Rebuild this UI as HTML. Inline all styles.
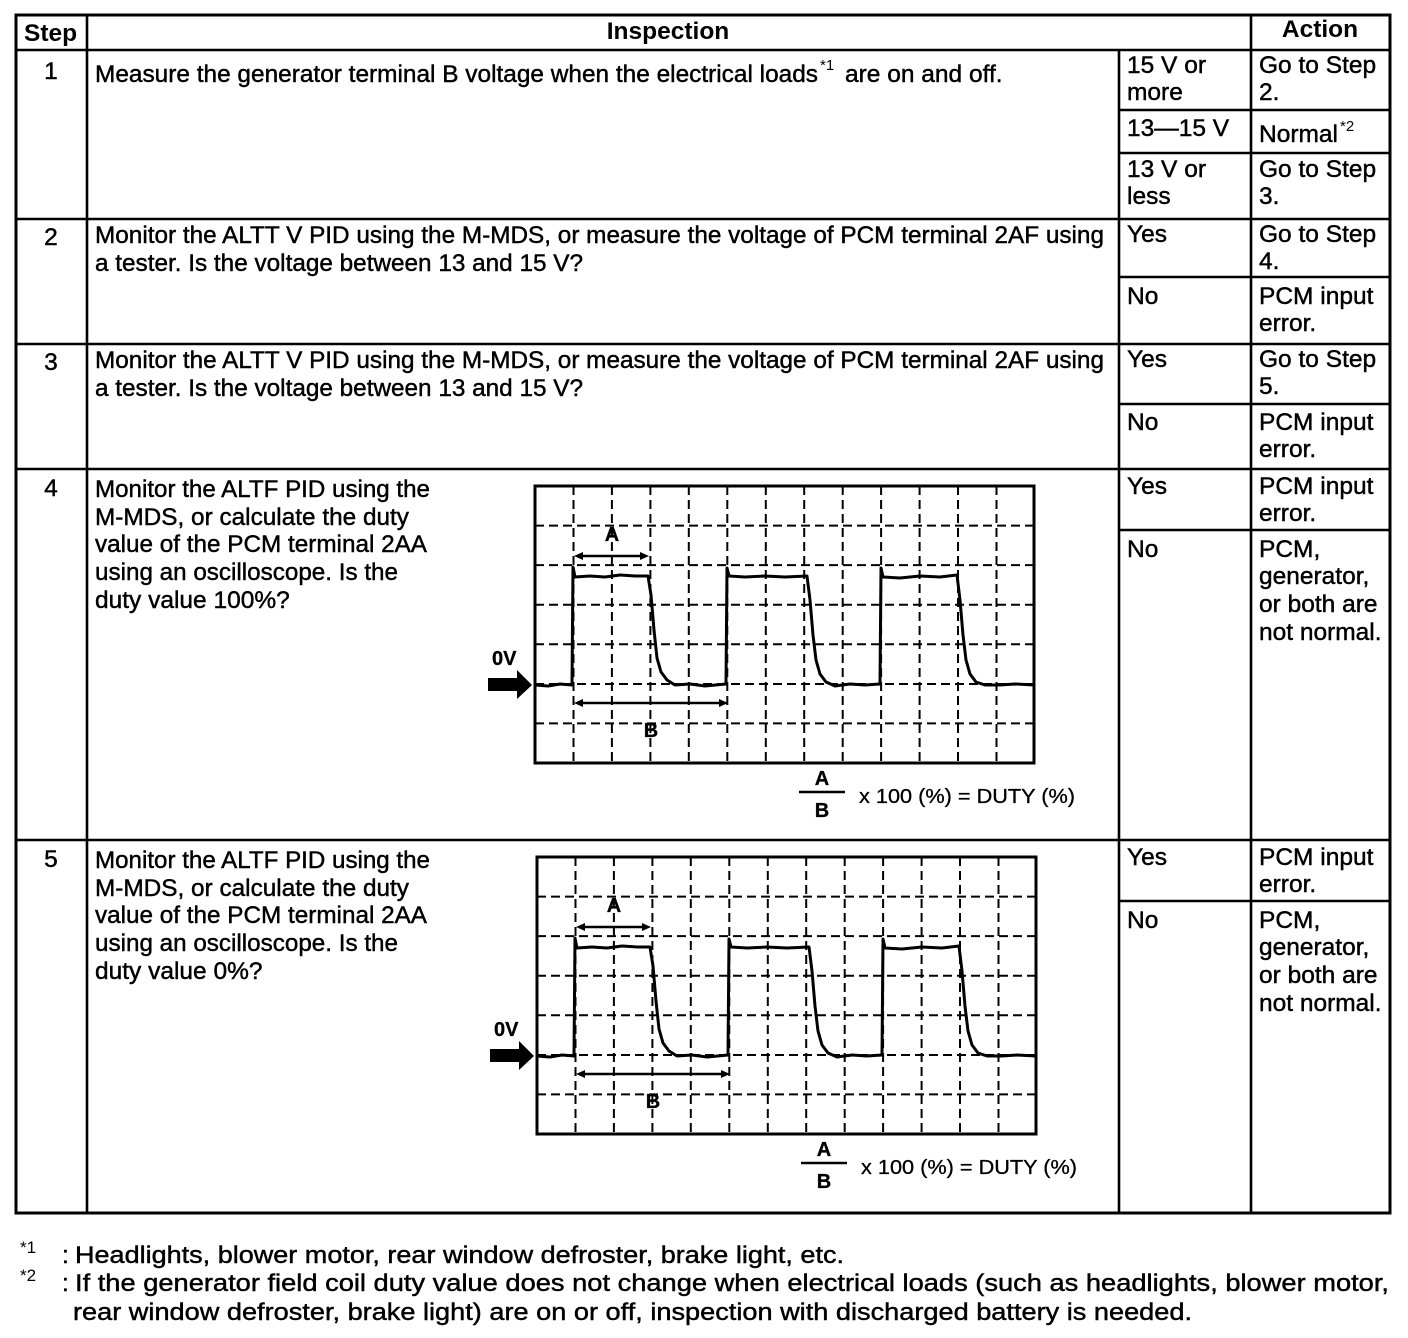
<!DOCTYPE html>
<html><head><meta charset="utf-8"><style>
html,body{margin:0;padding:0;background:#fff;}
svg{display:block;}
text{font-family:"Liberation Sans",Arial,sans-serif;fill:#000;}
.t{font-size:24.5px;stroke:#000;stroke-width:0.45px;}
.b{font-size:24.5px;font-weight:bold;}
.s{font-size:15px;}
.sc{font-size:20px;font-weight:bold;stroke:#000;stroke-width:0.3px;}
</style></head><body>
<svg width="1408" height="1338" viewBox="0 0 1408 1338" xmlns="http://www.w3.org/2000/svg">
<rect width="1408" height="1338" fill="#fff"/>
<!-- table lines -->
<g stroke="#000" stroke-width="2.6" fill="none">
<rect x="16" y="15" width="1374" height="1198" stroke-width="3"/>
<line x1="87" y1="15" x2="87" y2="1213"/>
<line x1="1251" y1="15" x2="1251" y2="1213"/>
<line x1="1119" y1="50" x2="1119" y2="1213"/>
<line x1="16" y1="50" x2="1390" y2="50"/>
<line x1="16" y1="219" x2="1390" y2="219"/>
<line x1="16" y1="344" x2="1390" y2="344"/>
<line x1="16" y1="469" x2="1390" y2="469"/>
<line x1="16" y1="840" x2="1390" y2="840"/>
<line x1="1119" y1="110" x2="1390" y2="110"/>
<line x1="1119" y1="153" x2="1390" y2="153"/>
<line x1="1119" y1="277" x2="1390" y2="277"/>
<line x1="1119" y1="404" x2="1390" y2="404"/>
<line x1="1119" y1="530" x2="1390" y2="530"/>
<line x1="1119" y1="901" x2="1390" y2="901"/>
</g>

<!-- header -->
<text class="b" x="24" y="41">Step</text>
<text class="b" x="668" y="39" text-anchor="middle">Inspection</text>
<text class="b" x="1320" y="37" text-anchor="middle">Action</text>

<!-- row 1 -->
<text class="t" x="51" y="79" text-anchor="middle">1</text>
<text class="t" x="95" y="82" textLength="723" lengthAdjust="spacingAndGlyphs">Measure the generator terminal B voltage when the electrical loads</text>
<text class="s" x="820" y="70">*1</text>
<text class="t" x="845" y="82">are on and off.</text>
<text class="t" x="1127" y="73">15 V or</text>
<text class="t" x="1127" y="100">more</text>
<text class="t" x="1259" y="73">Go to Step</text>
<text class="t" x="1259" y="100">2.</text>
<text class="t" x="1127" y="136">13—15 V</text>
<text class="t" x="1259" y="142">Normal</text>
<text class="s" x="1340" y="131">*2</text>
<text class="t" x="1127" y="177">13 V or</text>
<text class="t" x="1127" y="204">less</text>
<text class="t" x="1259" y="177">Go to Step</text>
<text class="t" x="1259" y="204">3.</text>

<!-- row 2 -->
<text class="t" x="51" y="245" text-anchor="middle">2</text>
<text class="t" x="95" y="243" textLength="1009" lengthAdjust="spacingAndGlyphs">Monitor the ALTT V PID using the M-MDS, or measure the voltage of PCM terminal 2AF using</text>
<text class="t" x="95" y="271" textLength="488" lengthAdjust="spacingAndGlyphs">a tester. Is the voltage between 13 and 15 V?</text>
<text class="t" x="1127" y="242">Yes</text>
<text class="t" x="1259" y="242">Go to Step</text>
<text class="t" x="1259" y="269">4.</text>
<text class="t" x="1127" y="304">No</text>
<text class="t" x="1259" y="304">PCM input</text>
<text class="t" x="1259" y="331">error.</text>

<!-- row 3 -->
<text class="t" x="51" y="370" text-anchor="middle">3</text>
<text class="t" x="95" y="368" textLength="1009" lengthAdjust="spacingAndGlyphs">Monitor the ALTT V PID using the M-MDS, or measure the voltage of PCM terminal 2AF using</text>
<text class="t" x="95" y="396" textLength="488" lengthAdjust="spacingAndGlyphs">a tester. Is the voltage between 13 and 15 V?</text>
<text class="t" x="1127" y="367">Yes</text>
<text class="t" x="1259" y="367">Go to Step</text>
<text class="t" x="1259" y="394">5.</text>
<text class="t" x="1127" y="430">No</text>
<text class="t" x="1259" y="430">PCM input</text>
<text class="t" x="1259" y="457">error.</text>

<!-- row 4 -->
<text class="t" x="51" y="496" text-anchor="middle">4</text>
<text class="t" x="95" y="497" textLength="335" lengthAdjust="spacingAndGlyphs">Monitor the ALTF PID using the</text>
<text class="t" x="95" y="525" textLength="314" lengthAdjust="spacingAndGlyphs">M-MDS, or calculate the duty</text>
<text class="t" x="95" y="552" textLength="332" lengthAdjust="spacingAndGlyphs">value of the PCM terminal 2AA</text>
<text class="t" x="95" y="580" textLength="303" lengthAdjust="spacingAndGlyphs">using an oscilloscope. Is the</text>
<text class="t" x="95" y="608">duty value 100%?</text>
<text class="t" x="1127" y="494">Yes</text>
<text class="t" x="1259" y="494">PCM input</text>
<text class="t" x="1259" y="521">error.</text>
<text class="t" x="1127" y="557">No</text>
<text class="t" x="1259" y="557">PCM,</text>
<text class="t" x="1259" y="584">generator,</text>
<text class="t" x="1259" y="612">or both are</text>
<text class="t" x="1259" y="640">not normal.</text>

<!-- row 5 -->
<text class="t" x="51" y="867" text-anchor="middle">5</text>
<text class="t" x="95" y="868" textLength="335" lengthAdjust="spacingAndGlyphs">Monitor the ALTF PID using the</text>
<text class="t" x="95" y="896" textLength="314" lengthAdjust="spacingAndGlyphs">M-MDS, or calculate the duty</text>
<text class="t" x="95" y="923" textLength="332" lengthAdjust="spacingAndGlyphs">value of the PCM terminal 2AA</text>
<text class="t" x="95" y="951" textLength="303" lengthAdjust="spacingAndGlyphs">using an oscilloscope. Is the</text>
<text class="t" x="95" y="979">duty value 0%?</text>
<text class="t" x="1127" y="865">Yes</text>
<text class="t" x="1259" y="865">PCM input</text>
<text class="t" x="1259" y="892">error.</text>
<text class="t" x="1127" y="928">No</text>
<text class="t" x="1259" y="928">PCM,</text>
<text class="t" x="1259" y="955">generator,</text>
<text class="t" x="1259" y="983">or both are</text>
<text class="t" x="1259" y="1011">not normal.</text>

<!-- scope 1 -->
<g>
 <g stroke="#000" stroke-width="2" stroke-dasharray="9 5" fill="none">
  <line x1="573.5" y1="486" x2="573.5" y2="763"/>
  <line x1="611.9" y1="486" x2="611.9" y2="763"/>
  <line x1="650.4" y1="486" x2="650.4" y2="763"/>
  <line x1="688.8" y1="486" x2="688.8" y2="763"/>
  <line x1="727.3" y1="486" x2="727.3" y2="763"/>
  <line x1="765.8" y1="486" x2="765.8" y2="763"/>
  <line x1="804.2" y1="486" x2="804.2" y2="763"/>
  <line x1="842.7" y1="486" x2="842.7" y2="763"/>
  <line x1="881.1" y1="486" x2="881.1" y2="763"/>
  <line x1="919.6" y1="486" x2="919.6" y2="763"/>
  <line x1="958" y1="486" x2="958" y2="763"/>
  <line x1="996.5" y1="486" x2="996.5" y2="763"/>
  <line x1="535" y1="525.6" x2="1034" y2="525.6"/>
  <line x1="535" y1="565.1" x2="1034" y2="565.1"/>
  <line x1="535" y1="604.7" x2="1034" y2="604.7"/>
  <line x1="535" y1="644.3" x2="1034" y2="644.3"/>
  <line x1="535" y1="684" x2="1034" y2="684"/>
  <line x1="535" y1="723.4" x2="1034" y2="723.4"/>
 </g>
 <rect x="535" y="486" width="499" height="277" fill="none" stroke="#000" stroke-width="3"/>
 <path d="M535,685 L548,686 L560,684 L572,685 L573,567 L575,577 L590,576 L605,577 L620,575 L635,576 L648,576 L651,595 L654,630 L657,658 L661,672 L667,680 L675,685 L690,684 L705,686 L726,684 L727,568 L729,576 L745,577 L765,576 L785,577 L807,576 L810,600 L813,635 L816,660 L820,674 L826,682 L835,686 L850,684 L865,685 L880,684 L881,568 L883,577 L900,578 L920,576 L940,577 L957,575 L960,600 L963,635 L966,660 L970,674 L976,682 L985,685 L1000,685 L1015,684 L1034,685" fill="none" stroke="#000" stroke-width="3" stroke-linejoin="round"/>
 <line x1="580" y1="556" x2="643" y2="556" stroke="#000" stroke-width="2.5"/>
 <polygon points="574,556 583,552 583,560" fill="#000"/>
 <polygon points="649,556 640,552 640,560" fill="#000"/>
 <text class="sc" x="612" y="541" text-anchor="middle">A</text>
 <line x1="580" y1="703" x2="722" y2="703" stroke="#000" stroke-width="2.5"/>
 <polygon points="574,703 583,699 583,707" fill="#000"/>
 <polygon points="728,703 719,699 719,707" fill="#000"/>
 <text class="sc" x="651" y="737" text-anchor="middle">B</text>
 <text class="sc" x="492" y="665">0V</text>
 <polygon points="488,678 517,678 517,670 532,685 517,699 517,691 488,691" fill="#000"/>
 <text class="sc" x="822" y="785" text-anchor="middle">A</text>
 <line x1="799" y1="792" x2="845" y2="792" stroke="#000" stroke-width="2.5"/>
 <text class="sc" x="822" y="817" text-anchor="middle">B</text>
 <text class="sc" x="859" y="803" textLength="216" lengthAdjust="spacingAndGlyphs" style="font-weight:normal">x 100 (%) = DUTY (%)</text>
</g>

<!-- scope 2 -->
<g transform="translate(2,371)">
 <g stroke="#000" stroke-width="2" stroke-dasharray="9 5" fill="none">
  <line x1="573.5" y1="486" x2="573.5" y2="763"/>
  <line x1="611.9" y1="486" x2="611.9" y2="763"/>
  <line x1="650.4" y1="486" x2="650.4" y2="763"/>
  <line x1="688.8" y1="486" x2="688.8" y2="763"/>
  <line x1="727.3" y1="486" x2="727.3" y2="763"/>
  <line x1="765.8" y1="486" x2="765.8" y2="763"/>
  <line x1="804.2" y1="486" x2="804.2" y2="763"/>
  <line x1="842.7" y1="486" x2="842.7" y2="763"/>
  <line x1="881.1" y1="486" x2="881.1" y2="763"/>
  <line x1="919.6" y1="486" x2="919.6" y2="763"/>
  <line x1="958" y1="486" x2="958" y2="763"/>
  <line x1="996.5" y1="486" x2="996.5" y2="763"/>
  <line x1="535" y1="525.6" x2="1034" y2="525.6"/>
  <line x1="535" y1="565.1" x2="1034" y2="565.1"/>
  <line x1="535" y1="604.7" x2="1034" y2="604.7"/>
  <line x1="535" y1="644.3" x2="1034" y2="644.3"/>
  <line x1="535" y1="684" x2="1034" y2="684"/>
  <line x1="535" y1="723.4" x2="1034" y2="723.4"/>
 </g>
 <rect x="535" y="486" width="499" height="277" fill="none" stroke="#000" stroke-width="3"/>
 <path d="M535,685 L548,686 L560,684 L572,685 L573,567 L575,577 L590,576 L605,577 L620,575 L635,576 L648,576 L651,595 L654,630 L657,658 L661,672 L667,680 L675,685 L690,684 L705,686 L726,684 L727,568 L729,576 L745,577 L765,576 L785,577 L807,576 L810,600 L813,635 L816,660 L820,674 L826,682 L835,686 L850,684 L865,685 L880,684 L881,568 L883,577 L900,578 L920,576 L940,577 L957,575 L960,600 L963,635 L966,660 L970,674 L976,682 L985,685 L1000,685 L1015,684 L1034,685" fill="none" stroke="#000" stroke-width="3" stroke-linejoin="round"/>
 <line x1="580" y1="556" x2="643" y2="556" stroke="#000" stroke-width="2.5"/>
 <polygon points="574,556 583,552 583,560" fill="#000"/>
 <polygon points="649,556 640,552 640,560" fill="#000"/>
 <text class="sc" x="612" y="541" text-anchor="middle">A</text>
 <line x1="580" y1="703" x2="722" y2="703" stroke="#000" stroke-width="2.5"/>
 <polygon points="574,703 583,699 583,707" fill="#000"/>
 <polygon points="728,703 719,699 719,707" fill="#000"/>
 <text class="sc" x="651" y="737" text-anchor="middle">B</text>
 <text class="sc" x="492" y="665">0V</text>
 <polygon points="488,678 517,678 517,670 532,685 517,699 517,691 488,691" fill="#000"/>
 <text class="sc" x="822" y="785" text-anchor="middle">A</text>
 <line x1="799" y1="792" x2="845" y2="792" stroke="#000" stroke-width="2.5"/>
 <text class="sc" x="822" y="817" text-anchor="middle">B</text>
 <text class="sc" x="859" y="803" textLength="216" lengthAdjust="spacingAndGlyphs" style="font-weight:normal">x 100 (%) = DUTY (%)</text>
</g>

<!-- footnotes -->
<text class="s" x="20" y="1253" style="font-size:17px">*1</text>
<text class="t" x="62" y="1263">:</text>
<text class="t" x="75" y="1263" textLength="769" lengthAdjust="spacingAndGlyphs">Headlights, blower motor, rear window defroster, brake light, etc.</text>
<text class="s" x="20" y="1281" style="font-size:17px">*2</text>
<text class="t" x="62" y="1291">:</text>
<text class="t" x="75" y="1291" textLength="1314" lengthAdjust="spacingAndGlyphs">If the generator field coil duty value does not change when electrical loads (such as headlights, blower motor,</text>
<text class="t" x="73" y="1320" textLength="1119" lengthAdjust="spacingAndGlyphs">rear window defroster, brake light) are on or off, inspection with discharged battery is needed.</text>
</svg>
</body></html>
